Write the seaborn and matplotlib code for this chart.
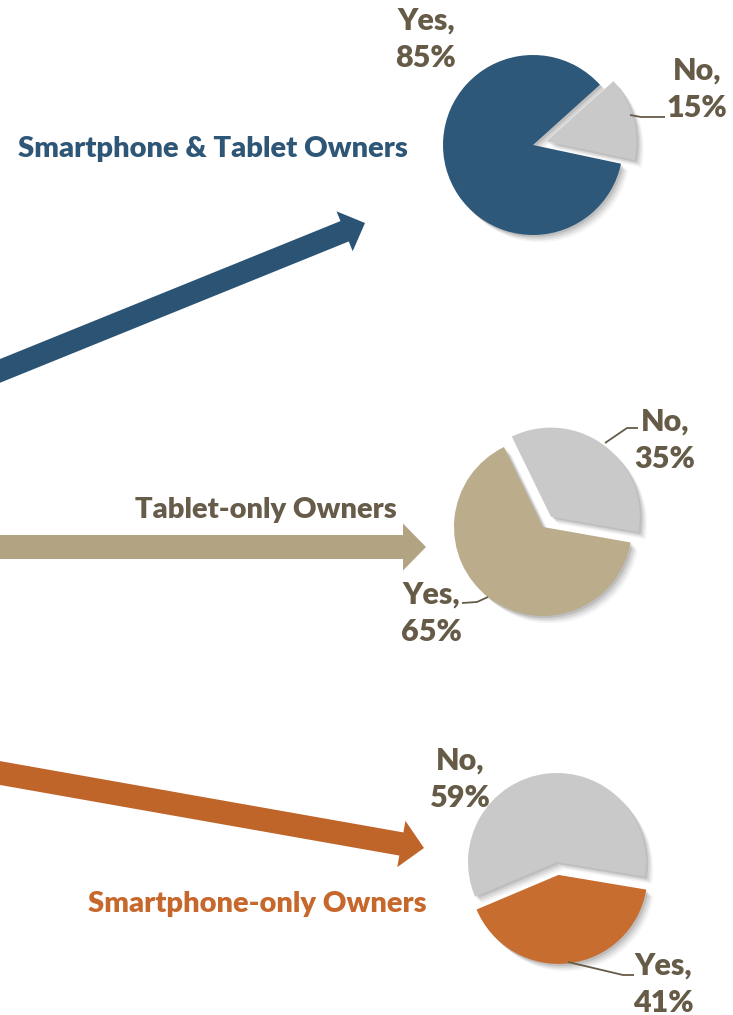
import matplotlib
matplotlib.use("Agg")
import matplotlib.pyplot as plt
from matplotlib.patches import FancyArrow, Shadow
import seaborn as sns

# Survey answers per owner group (share of respondents, %)
groups = ["Smartphone & Tablet Owners", "Tablet-only Owners", "Smartphone-only Owners"]
answers = ["No", "Yes"]
no_share = [15, 35, 59]
yes_share = [85, 65, 41]

group_colors = ["#2d5879", "#bbad8b", "#c86d30"]
arrow_colors = ["#2b5374", "#b2a383", "#c0652a"]
title_colors = ["#2e5677", "#665c49", "#c6682c"]
no_color = "#c9c9c9"
label_color = "#655b47"

sns.set_theme(style="white")
plt.rcParams["font.family"] = ["Lato", "DejaVu Sans"]
TEXT_WEIGHT = "heavy"

W, H = 733, 1015
fig = plt.figure(figsize=(W / 100, H / 100), dpi=100)
ax = fig.add_axes([0, 0, 1, 1])


def up(y):
    """Canvas y measured from the top -> axes y measured from the bottom."""
    return H - y


# pie layout: center (x, y from top), radius, start angle, explode distances
pie_layout = [
    dict(center=(533, 145), r=90, start=-12, explode=(14, 0)),
    dict(center=(543, 527), r=89, start=-10, explode=(13, 0)),
    dict(center=(557, 862), r=89, start=-9.5, explode=(0, 13)),
]

for i, lay in enumerate(pie_layout):
    cx, cy = lay["center"]
    wedges, _ = ax.pie(
        [no_share[i], yes_share[i]],
        colors=[no_color, group_colors[i]],
        startangle=lay["start"],
        counterclock=True,
        explode=lay["explode"],
        center=(cx, up(cy)),
        radius=lay["r"],
        frame=True,
        wedgeprops=dict(linewidth=0),
    )
    # soft drop shadow toward the lower right
    for off, a in [(1.5, 0.10), (2.8, 0.08), (4.0, 0.06), (5.2, 0.04)]:
        for w in wedges:
            s = Shadow(w, off, -off, facecolor="black", edgecolor="none", alpha=a)
            s.set_zorder(w.get_zorder() - 0.5)
            ax.add_patch(s)

# arrows from the left margin toward each pie: (start, tip) in canvas pixels
arrow_paths = [
    ((-20, 379), (365, 223)),
    ((-10, 547), (426, 547)),
    ((-20, 769.5), (424, 848)),
]
arrow_shape = [(22, 43, 22), (24, 47, 23), (23.5, 47, 23)]
for (p0, p1), (wd, hw, hl), col in zip(arrow_paths, arrow_shape, arrow_colors):
    x0, y0 = p0[0], up(p0[1])
    x1, y1 = p1[0], up(p1[1])
    ax.add_patch(FancyArrow(x0, y0, x1 - x0, y1 - y0, width=wd, head_width=hw,
                            head_length=hl, length_includes_head=True,
                            color=col, linewidth=0, zorder=1))

# group titles (center x, baseline y)
title_pos = [(213, 157), (266, 518), (257, 912)]
for g, (tx, ty), col in zip(groups, title_pos, title_colors):
    ax.text(tx, up(ty), g, ha="center", va="baseline", fontsize=21,
            fontweight=TEXT_WEIGHT, color=col)

# slice labels: (group index, answer, center x, center y)
label_pos = [
    (0, "Yes", 426, 39),
    (0, "No", 697, 89),
    (1, "No", 665, 440),
    (1, "Yes", 431, 613),
    (2, "No", 460, 779),
    (2, "Yes", 663, 984),
]
for gi, ans, lx, ly in label_pos:
    val = yes_share[gi] if ans == "Yes" else no_share[gi]
    ax.text(lx, up(ly), f"{ans},\n{val}%", ha="center", va="center",
            fontsize=22, fontweight=TEXT_WEIGHT, color=label_color, linespacing=1.42)

# leader lines from slices to their labels
leaders = [
    [(630, 115), (641, 117), (665, 117)],
    [(605, 443), (627, 428), (638, 428)],
    [(462, 603), (477, 602), (488, 597)],
    [(568, 962), (623, 975), (634, 975)],
]
for pts in leaders:
    ax.plot([p[0] for p in pts], [up(p[1]) for p in pts], color=label_color,
            linewidth=1.3, solid_capstyle="butt")

ax.set_xlim(0, W)
ax.set_ylim(0, H)
ax.set_aspect("equal")
ax.axis("off")

fig.savefig("out.png", dpi=100, facecolor="white")
